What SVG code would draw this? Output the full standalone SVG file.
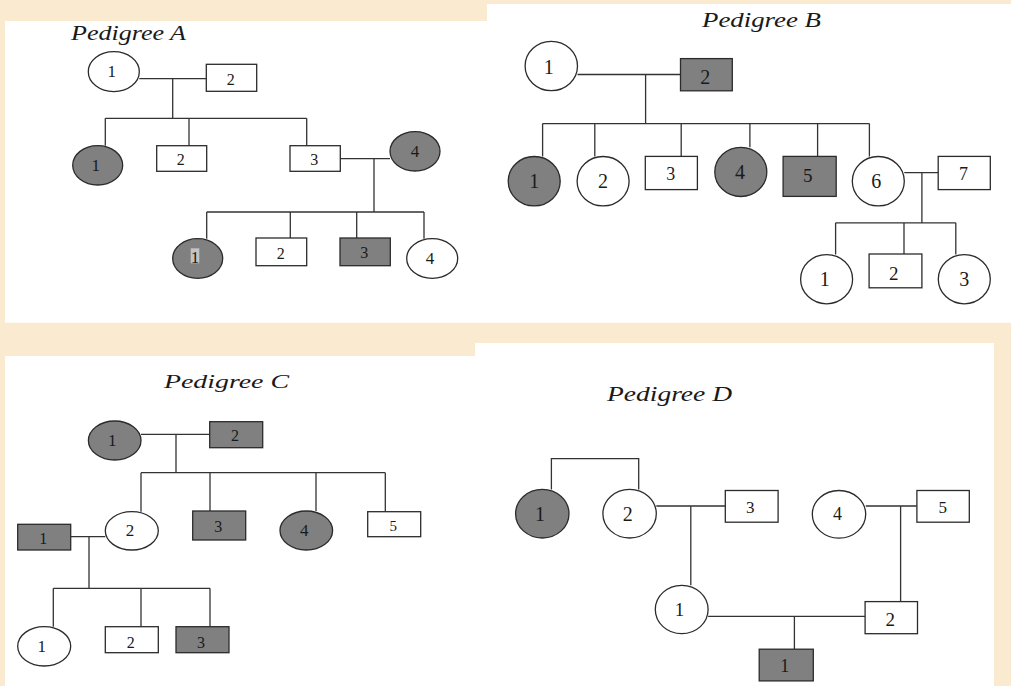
<svg xmlns="http://www.w3.org/2000/svg" width="1011" height="686" viewBox="0 0 1011 686">
<style>
.n{fill:#ffffff;stroke:#2b2b2b;stroke-width:1.3}
.a{fill:#808080;stroke:#2b2b2b;stroke-width:1.3}
.l{fill:none;stroke:#333333;stroke-width:1.3}
.t{font-family:"Liberation Serif","Times New Roman",serif;fill:#1a1a1a;text-anchor:middle;dominant-baseline:central;font-size:17px}
.h{font-family:"Liberation Serif","Times New Roman",serif;font-style:italic;fill:#1a1a1a;font-size:20px}
.p{fill:#ffffff}
</style>
<rect x="0" y="0" width="1011" height="686" fill="#faebd0"/>
<g id="panels">
<rect class="p" x="5" y="21" width="482" height="301.7"/>
<rect class="p" x="487" y="4" width="524" height="318.7"/>
<rect class="p" x="5" y="356" width="470" height="330"/>
<rect class="p" x="475" y="343" width="519" height="343"/>
</g>
<g id="titles">
<text class="h" x="71" y="40" textLength="115" lengthAdjust="spacingAndGlyphs">Pedigree A</text>
<text class="h" x="702" y="27" textLength="119" lengthAdjust="spacingAndGlyphs" style="font-size:22px">Pedigree B</text>
<text class="h" x="164" y="387.7" textLength="125" lengthAdjust="spacingAndGlyphs" style="font-size:19px">Pedigree C</text>
<text class="h" x="607" y="401.4" textLength="125" lengthAdjust="spacingAndGlyphs" style="font-size:21px">Pedigree D</text>
</g>
<g id="connectors" class="l">
<path d="M139.3 78.7H206.3M172.7 78.7V118.3M105.3 118.3H306.7M105.3 118.3V145.7M189 118.3V145.7M306.7 118.3V145.7"/>
<path d="M340.3 158.7H390M374 158.7V212M206.7 212H424M206.7 212V238.7M290.3 212V238M356.7 212V238M424 212V238.7"/>
<path d="M577.5 74.5H680.5M645.6 74.5V123.6M542.6 123.6H869.4M542.6 123.6V156.4M594.8 123.6V156.4M681.2 123.6V156.4M749.9 123.6V147.3M817.6 123.6V156.4M869.4 123.6V156.4"/>
<path d="M904.3 172.7H938.2M921.9 172.7V222.8M835.6 222.8H955.8M835.6 222.8V254.5M904 222.8V254M955.8 222.8V254.5"/>
<path d="M141 434.3H209.7M176 434.3V472.7M141 472.7H385.3M141 472.7V511.7M210 472.7V511M316 472.7V511M385.3 472.7V511.7"/>
<path d="M70.7 536.7H105.3M89 536.7V588.3M53.3 588.3H210M53.3 588.3V626.7M141 588.3V626.7M210 588.3V626.7"/>
<path d="M551.4 489.4V458.7H638.7V489.4"/>
<path d="M656.3 506H725.3M690.8 506V585.3M865.8 506H916.9M900.6 506V601.6M708.1 616.4H865.1M794.4 616.4V649.2"/>
</g>
<g id="A-I1"><ellipse class="n" cx="113.8" cy="71.7" rx="25.5" ry="20"/><text class="t" x="111.7" y="71.7">1</text></g>
<g id="A-I2"><rect class="n" x="206.3" y="64.3" width="50.4" height="27"/><text class="t" x="230.7" y="79.5" style="font-size:16px">2</text></g>
<g id="A-II1"><ellipse class="a" cx="97.7" cy="165.3" rx="25" ry="19.7"/><text class="t" x="95.7" y="165">1</text></g>
<g id="A-II2"><rect class="n" x="156.7" y="145.7" width="50" height="25.6"/><text class="t" x="180.7" y="159.5" style="font-size:16px">2</text></g>
<g id="A-II3"><rect class="n" x="290" y="145.7" width="50.3" height="25.6"/><text class="t" x="314.3" y="159.5" style="font-size:16px">3</text></g>
<g id="A-II4"><ellipse class="a" cx="415" cy="151.3" rx="25" ry="19.7"/><text class="t" x="415" y="151">4</text></g>
<g id="A-III1"><ellipse class="a" cx="197.7" cy="258.5" rx="25" ry="19.8"/><rect x="190.7" y="248.3" width="8.6" height="15" fill="#c4c4c4"/><text class="t" x="195" y="257">1</text></g>
<g id="A-III2"><rect class="n" x="256" y="238" width="50.7" height="27.7"/><text class="t" x="280.7" y="253.5" style="font-size:16px">2</text></g>
<g id="A-III3"><rect class="a" x="340" y="238" width="50.3" height="27.7"/><text class="t" x="364.3" y="252.5" style="font-size:16px">3</text></g>
<g id="A-III4"><ellipse class="n" cx="432.2" cy="258.5" rx="25.5" ry="19.8"/><text class="t" x="430" y="258">4</text></g>
<g id="B-I1"><ellipse class="n" cx="551.3" cy="66" rx="26.2" ry="24.7"/><text class="t" x="548.7" y="67" style="font-size:20px">1</text></g>
<g id="B-I2"><rect class="a" x="680.5" y="58.6" width="51.8" height="32.2"/><text class="t" x="705.2" y="77" style="font-size:20px">2</text></g>
<g id="B-II1"><ellipse class="a" cx="534.2" cy="181.2" rx="26" ry="24.7"/><text class="t" x="534.2" y="181" style="font-size:20px">1</text></g>
<g id="B-II2"><ellipse class="n" cx="603.1" cy="181.2" rx="26" ry="24.7"/><text class="t" x="602.9" y="181" style="font-size:20px">2</text></g>
<g id="B-II3"><rect class="n" x="645.3" y="156.4" width="52.1" height="33.2"/><text class="t" x="670.7" y="174.4" style="font-size:18px">3</text></g>
<g id="B-II4"><ellipse class="a" cx="740.8" cy="171.9" rx="26" ry="24.6"/><text class="t" x="740.1" y="171.5" style="font-size:20px">4</text></g>
<g id="B-II5"><rect class="a" x="783.1" y="156.4" width="53.1" height="40"/><text class="t" x="807.8" y="175.4" style="font-size:19px">5</text></g>
<g id="B-II6"><ellipse class="n" cx="878.3" cy="181.2" rx="26" ry="24.7"/><text class="t" x="876.2" y="181" style="font-size:20px">6</text></g>
<g id="B-II7"><rect class="n" x="938.2" y="156.4" width="52.1" height="33.2"/><text class="t" x="963.6" y="173.7" style="font-size:18px">7</text></g>
<g id="B-III1"><ellipse class="n" cx="826.6" cy="279.2" rx="26" ry="24.6"/><text class="t" x="824.7" y="279.4" style="font-size:20px">1</text></g>
<g id="B-III2"><rect class="n" x="869.1" y="254" width="52.8" height="33.8"/><text class="t" x="893.8" y="273.6" style="font-size:19px">2</text></g>
<g id="B-III3"><ellipse class="n" cx="964.3" cy="279.2" rx="26" ry="24.6"/><text class="t" x="964.3" y="279.4" style="font-size:20px">3</text></g>
<g id="C-I1"><ellipse class="a" cx="114.7" cy="440.5" rx="26.3" ry="19.5"/><text class="t" x="112.3" y="440">1</text></g>
<g id="C-I2"><rect class="a" x="209.7" y="421.7" width="53" height="26"/><text class="t" x="235" y="435.7" style="font-size:16px">2</text></g>
<g id="C-II1"><rect class="a" x="17.7" y="524.3" width="53" height="25.7"/><text class="t" x="43.3" y="538" style="font-size:16px">1</text></g>
<g id="C-II2"><ellipse class="n" cx="131.8" cy="530.8" rx="26.5" ry="19.2"/><text class="t" x="130" y="530">2</text></g>
<g id="C-II3"><rect class="a" x="192.7" y="511" width="53" height="29"/><text class="t" x="218.3" y="526" style="font-size:16px">3</text></g>
<g id="C-II4"><ellipse class="a" cx="306.3" cy="530.5" rx="26.3" ry="19.5"/><text class="t" x="304.3" y="530">4</text></g>
<g id="C-II5"><rect class="n" x="367.7" y="511.7" width="53" height="25"/><text class="t" x="393.3" y="525.5" style="font-size:15px">5</text></g>
<g id="C-III1"><ellipse class="n" cx="44.2" cy="646.3" rx="26.5" ry="19.7"/><text class="t" x="41.7" y="646.5">1</text></g>
<g id="C-III2"><rect class="n" x="105.3" y="626.7" width="53" height="26"/><text class="t" x="130.7" y="642" style="font-size:16px">2</text></g>
<g id="C-III3"><rect class="a" x="176" y="626.7" width="53" height="26"/><text class="t" x="201" y="642" style="font-size:16px">3</text></g>
<g id="D-I1"><ellipse class="a" cx="542.3" cy="513.7" rx="26.7" ry="24.3"/><text class="t" x="540" y="514" style="font-size:20px">1</text></g>
<g id="D-I2"><ellipse class="n" cx="629.6" cy="513.7" rx="26.7" ry="24.3"/><text class="t" x="627.7" y="514" style="font-size:20px">2</text></g>
<g id="D-I3"><rect class="n" x="725.3" y="490.5" width="52.8" height="31.7"/><text class="t" x="750.2" y="507.7">3</text></g>
<g id="D-I4"><ellipse class="n" cx="839" cy="514.3" rx="26.7" ry="23.8"/><text class="t" x="837.5" y="514" style="font-size:18px">4</text></g>
<g id="D-I5"><rect class="n" x="916.9" y="490.5" width="52.4" height="31.7"/><text class="t" x="942.7" y="507.7">5</text></g>
<g id="D-II1"><ellipse class="n" cx="681.7" cy="609.5" rx="26.4" ry="24.2"/><text class="t" x="679.5" y="609.5" style="font-size:19px">1</text></g>
<g id="D-II2"><rect class="n" x="865.1" y="601.6" width="52.4" height="32.1"/><text class="t" x="890.3" y="619.2" style="font-size:19px">2</text></g>
<g id="D-III1"><rect class="a" x="759.2" y="649.2" width="54.1" height="31.7"/><text class="t" x="784.7" y="666.4" style="font-size:18px">1</text></g>
</svg>
